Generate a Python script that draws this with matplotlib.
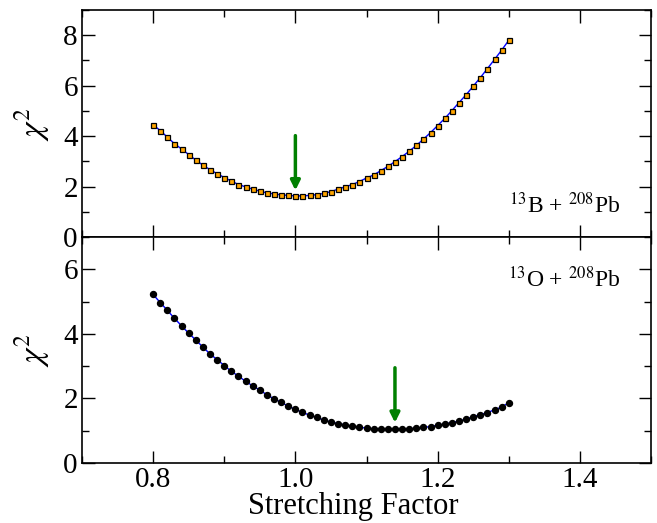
import numpy as np
import matplotlib
matplotlib.use("Agg")
import matplotlib.pyplot as plt
from matplotlib.ticker import MultipleLocator

plt.rcParams['font.family'] = ['Liberation Serif', 'DejaVu Serif']
plt.rcParams['mathtext.fontset'] = 'stix'

# stretching factor grid, 0.80 .. 1.30
sf = [round(0.80 + 0.01 * i, 2) for i in range(51)]

# chi^2 for 13B + 208Pb
chi_b = [4.45, 4.22, 3.96, 3.70, 3.49, 3.27, 3.05, 2.85, 2.67, 2.51,
         2.36, 2.22, 2.08, 1.99, 1.90, 1.82, 1.75, 1.71, 1.67, 1.65,
         1.63, 1.63, 1.65, 1.68, 1.73, 1.80, 1.90, 1.99, 2.08, 2.20,
         2.34, 2.46, 2.63, 2.80, 2.99, 3.19, 3.40, 3.63, 3.88, 4.14,
         4.42, 4.70, 5.01, 5.33, 5.64, 5.98, 6.32, 6.68, 7.04, 7.41,
         7.80]

# chi^2 for 13O + 208Pb
chi_o = [5.22, 4.97, 4.73, 4.48, 4.25, 4.02, 3.81, 3.59, 3.38, 3.20,
         3.02, 2.84, 2.69, 2.53, 2.39, 2.26, 2.11, 1.99, 1.88, 1.76,
         1.66, 1.57, 1.48, 1.41, 1.33, 1.27, 1.22, 1.18, 1.14, 1.11,
         1.08, 1.06, 1.05, 1.04, 1.04, 1.05, 1.06, 1.08, 1.10, 1.13,
         1.17, 1.21, 1.25, 1.30, 1.36, 1.43, 1.50, 1.56, 1.65, 1.73,
         1.87]

# arrows: x, y_start, y_end
arrow_b = (1.00, 4.02, 1.85)
arrow_o = (1.14, 2.95, 1.25)

fig = plt.figure(figsize=(6.57, 5.23), dpi=100)
ax1 = fig.add_axes([0.1248, 0.5468, 0.8661, 0.4340])
ax2 = fig.add_axes([0.1248, 0.1147, 0.8661, 0.4321])


def style(ax, ymax, ystep):
    ax.set_xlim(0.7, 1.5)
    ax.set_ylim(0, ymax)
    ax.xaxis.set_major_locator(MultipleLocator(0.2))
    ax.xaxis.set_minor_locator(MultipleLocator(0.1))
    ax.yaxis.set_major_locator(MultipleLocator(ystep))
    ax.yaxis.set_minor_locator(MultipleLocator(ystep / 2))
    ax.tick_params(which='both', direction='in', top=True, right=True,
                   labelsize=21, width=1)
    ax.tick_params(which='major', length=9, pad=3)
    ax.tick_params(which='minor', length=5)
    for s in ax.spines.values():
        s.set_linewidth(1.2)
    ax.set_ylabel(r'$\chi^2$', fontsize=24, labelpad=8)


style(ax1, 9, 2)
style(ax2, 7, 2)
ax1.tick_params(labelbottom=False)

ax1.plot(sf, chi_b, color='blue', lw=1, marker='s', ms=3.6,
         mfc='orange', mec='black', mew=0.9)
ax2.plot(sf, chi_o, color='blue', lw=1, marker='o', ms=4.3,
         mfc='black', mec='black')

for ax, (xa, y0, y1) in ((ax1, arrow_b), (ax2, arrow_o)):
    ax.annotate('', xy=(xa, y1), xytext=(xa, y0),
                arrowprops=dict(arrowstyle='-|>', color='green', lw=2.5,
                                mutation_scale=14, shrinkA=0, shrinkB=0))

ax1.text(0.946, 0.105, r'$^{13}$B + $^{208}$Pb', transform=ax1.transAxes,
         ha='right', va='baseline', fontsize=17)
ax2.text(0.946, 0.78, r'$^{13}$O + $^{208}$Pb', transform=ax2.transAxes,
         ha='right', va='baseline', fontsize=17)

ax2.set_xlabel('Stretching Factor', fontsize=22, labelpad=0)
ax2.xaxis.set_label_coords(0.476, -0.13, transform=ax2.transAxes)
ax2.xaxis.label.set_va('top')

fig.savefig('out.png', dpi=100)
